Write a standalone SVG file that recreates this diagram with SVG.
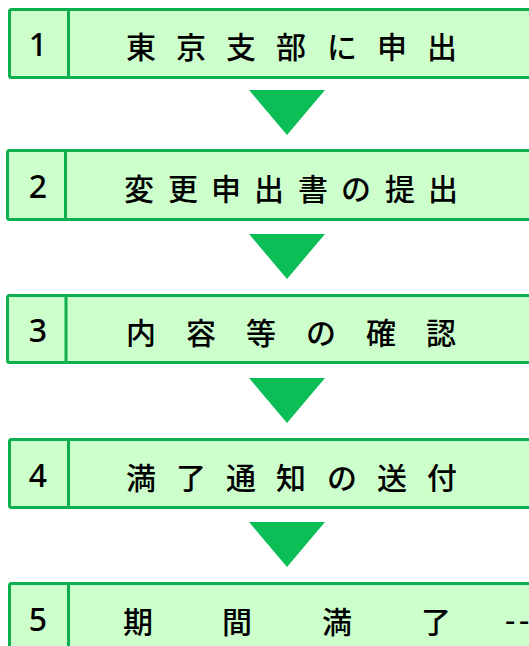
<svg xmlns="http://www.w3.org/2000/svg" width="529" height="646" viewBox="0 0 529 646">
<style>
.box{fill:#ccffcc;stroke:#0db04f;stroke-width:3}
.div{stroke:#0db04f;stroke-width:3}
.num{font-family:"Noto Sans","DejaVu Sans",sans-serif;font-size:32px;font-weight:500;fill:#000;text-anchor:middle}
.lbl{font-family:"Noto Sans CJK JP","Noto Sans CJK SC",sans-serif;font-size:30px;font-weight:500;fill:#000;text-anchor:middle}
.arr{fill:#0cbe56}
</style>
<rect x="0" y="0" width="529" height="646" fill="#fff"/>
<g id="connectors">
<polygon class="arr" points="249,90 325,90 287,135"/>
<polygon class="arr" points="249,234 325,234 287,279"/>
<polygon class="arr" points="249,378 325,378 287,423"/>
<polygon class="arr" points="249,522 325,522 287,567"/>
</g>
<g id="node1">
<rect class="box" x="9.5" y="9.5" width="540" height="68" rx="2"/>
<line class="div" x1="68.5" y1="9.5" x2="68.5" y2="77.5"/>
<text class="num" x="38" y="56">1</text>
<text class="lbl" x="141 191 241 291 342 392 442" y="58">東京支部に申出</text>
</g>
<g id="node2">
<rect class="box" x="7.5" y="150.5" width="540" height="69" rx="2"/>
<line class="div" x1="65.5" y1="150.5" x2="65.5" y2="219.5"/>
<text class="num" x="38" y="198">2</text>
<text class="lbl" x="139 183 226 269 313 356 400 443" y="200">変更申出書の提出</text>
</g>
<g id="node3">
<rect class="box" x="7.5" y="295.5" width="540" height="67" rx="2"/>
<line class="div" x1="66" y1="295.5" x2="66" y2="362.5"/>
<text class="num" x="38" y="342">3</text>
<text class="lbl" x="141 201 261 321 381 441" y="344">内容等の確認</text>
</g>
<g id="node4">
<rect class="box" x="9.5" y="439.5" width="540" height="68" rx="2"/>
<line class="div" x1="68.5" y1="439.5" x2="68.5" y2="507.5"/>
<text class="num" x="38" y="487">4</text>
<text class="lbl" x="141 191 241 291 342 392 442" y="489">満了通知の送付</text>
</g>
<g id="node5">
<rect class="box" x="9.5" y="583.5" width="540" height="100" rx="2"/>
<line class="div" x1="68.5" y1="583.5" x2="68.5" y2="683.5"/>
<text class="num" x="38" y="631">5</text>
<text class="lbl" x="138 237 337 436" y="633">期間満了</text>
<text class="lbl" x="510 524" y="631">--</text>
</g>
</svg>
